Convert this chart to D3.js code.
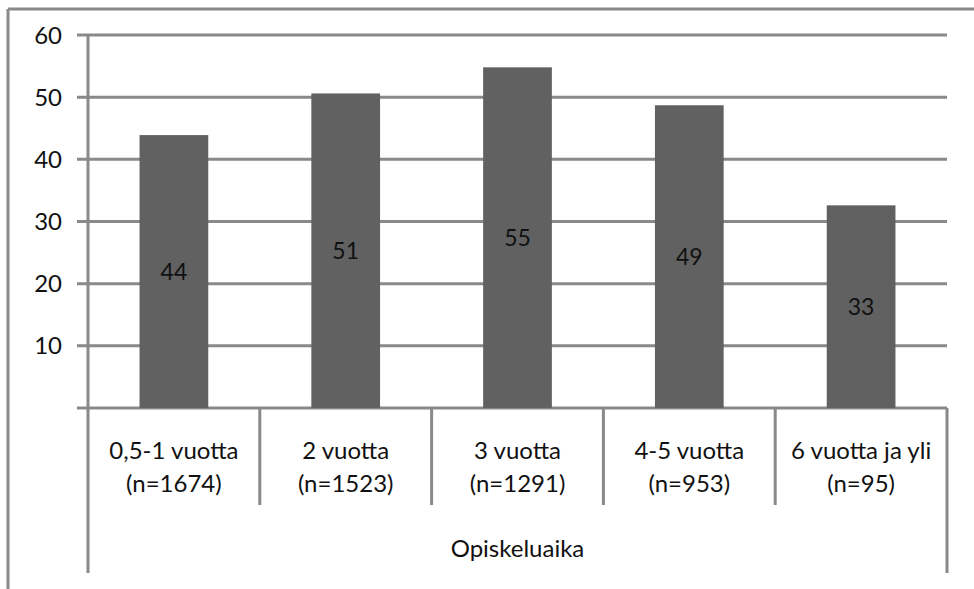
<!DOCTYPE html>
<html>
<head>
<meta charset="utf-8">
<script src="https://cdn.jsdelivr.net/npm/d3@7"></script>
<style>
    body { margin: 0; background: #fff; }
    text { font-family: Lato, "Open Sans", sans-serif; fill: #111; }
</style>
</head>
<body>
<svg class="chart"></svg>
<script>
// data
var categories = ["0,5-1 vuotta", "2 vuotta", "3 vuotta", "4-5 vuotta", "6 vuotta ja yli"];
var counts = ["(n=1674)", "(n=1523)", "(n=1291)", "(n=953)", "(n=95)"];
var values = [43.9, 50.6, 54.8, 48.7, 32.6];
var yTicks = [10, 20, 30, 40, 50, 60];
var axisTitle = "Opiskeluaika";

var width = 974, height = 589;
var lineColor = "#898989";
var barColor = "#616161";

var svg = d3.select(".chart")
    .attr("width", width)
    .attr("height", height);

// outer frame (only top and left edges are visible in the picture)
svg.append("line")
    .attr("x1", 8).attr("y1", 9).attr("x2", width).attr("y2", 9)
    .attr("stroke", lineColor).attr("stroke-width", 3);
svg.append("line")
    .attr("x1", 8).attr("y1", 9).attr("x2", 8).attr("y2", height)
    .attr("stroke", lineColor).attr("stroke-width", 3);

var plot = { left: 88, right: 947, top: 35, bottom: 408 };

var x = d3.scaleBand()
    .domain(categories)
    .range([plot.left, plot.right])
    .padding(0);

var y = d3.scaleLinear()
    .domain([0, 60])
    .range([plot.bottom, plot.top]);

// gridlines with the little tick stubs on the left
svg.append("g")
    .selectAll("line")
    .data([0].concat(yTicks))
    .enter().append("line")
    .attr("x1", plot.left - 11)
    .attr("x2", plot.right)
    .attr("y1", d => y(d))
    .attr("y2", d => y(d))
    .attr("stroke", lineColor)
    .attr("stroke-width", 3);

svg.append("g")
    .selectAll("text")
    .data(yTicks)
    .enter().append("text")
    .attr("x", 62)
    .attr("y", d => y(d))
    .attr("dy", "0.36em")
    .attr("text-anchor", "end")
    .style("font-size", "24px")
    .text(d => d);

// bars
var barW = x.bandwidth() * 0.4;
var bars = svg.append("g")
    .selectAll("g")
    .data(values)
    .enter().append("g");

bars.append("rect")
    .attr("x", (d, i) => x(categories[i]) + x.bandwidth() / 2 - barW / 2)
    .attr("y", d => y(d))
    .attr("width", barW)
    .attr("height", d => y(0) - y(d))
    .attr("fill", barColor);

bars.append("text")
    .attr("x", (d, i) => x(categories[i]) + x.bandwidth() / 2)
    .attr("y", d => (y(d) + y(0)) / 2)
    .attr("dy", "0.36em")
    .attr("text-anchor", "middle")
    .style("font-size", "23px")
    .text(d => Math.round(d));

// y axis line, running down through the category box
svg.append("line")
    .attr("x1", plot.left).attr("x2", plot.left)
    .attr("y1", plot.top - 1).attr("y2", 573)
    .attr("stroke", lineColor).attr("stroke-width", 3);

svg.append("line")
    .attr("x1", plot.right).attr("x2", plot.right)
    .attr("y1", plot.bottom).attr("y2", 573)
    .attr("stroke", lineColor).attr("stroke-width", 3);

// category separators
svg.append("g")
    .selectAll("line")
    .data(categories.slice(1))
    .enter().append("line")
    .attr("x1", d => x(d)).attr("x2", d => x(d))
    .attr("y1", plot.bottom).attr("y2", 505)
    .attr("stroke", lineColor).attr("stroke-width", 3);

// category labels, two lines each
var labels = svg.append("g")
    .selectAll("text")
    .data(categories)
    .enter().append("text")
    .attr("text-anchor", "middle")
    .style("font-size", "24px");

labels.append("tspan")
    .attr("x", d => x(d) + x.bandwidth() / 2)
    .attr("y", 459)
    .text(d => d);

labels.append("tspan")
    .attr("x", d => x(d) + x.bandwidth() / 2)
    .attr("y", 492)
    .text((d, i) => counts[i]);

svg.append("text")
    .attr("x", (plot.left + plot.right) / 2)
    .attr("y", 557)
    .attr("text-anchor", "middle")
    .style("font-size", "24px")
    .text(axisTitle);
</script>
</body>
</html>
